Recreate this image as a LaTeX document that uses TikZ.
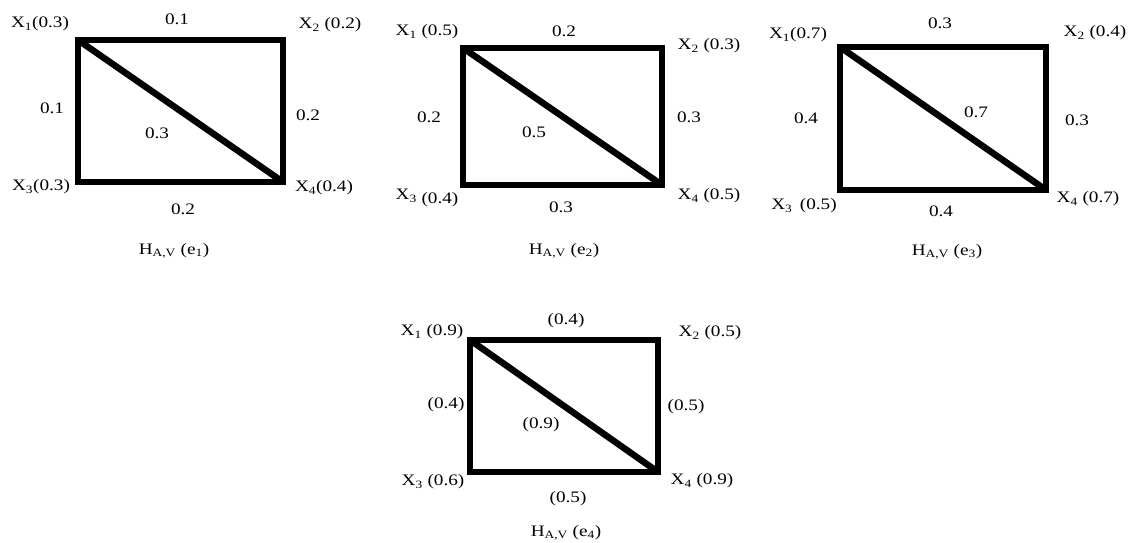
\documentclass[tikz,border=0pt]{standalone}
\usepackage{fontspec}
\setmainfont[FakeStretch=1.2]{Liberation Serif}
\begin{document}
\begin{tikzpicture}[x=1pt,y=-1pt,
  edge/.style={line width=6.5pt,line join=miter,line cap=butt},
  lbl/.style={font=\fontsize{16}{18}\selectfont,inner sep=0pt,anchor=center},
  captext/.style={font=\fontsize{16}{18}\selectfont,inner sep=0pt}]
\useasboundingbox[fill=white] (0,0) rectangle (1130,543);
% ---------- graph 1 ----------
\coordinate (a1) at (78,40);
\coordinate (b1) at (283,40);
\coordinate (c1) at (78,182);
\coordinate (d1) at (283,182);
\draw[edge] (a1) -- (b1) -- (d1) -- (c1) -- cycle;
\draw[edge] (a1) -- (d1);
\node[lbl] (x11) at (40,24) {X\textsubscript{1}(0.3)};
\node[lbl] (x21) at (330,25) {X\textsubscript{2} (0.2)};
\node[lbl] (x31) at (41,187) {X\textsubscript{3}(0.3)};
\node[lbl] (x41) at (324,188) {X\textsubscript{4}(0.4)};
\node[lbl] (t1) at (177,19) {0.1};
\node[lbl] (l1) at (52,108) {0.1};
\node[lbl] (r1) at (308,115) {0.2};
\node[lbl] (g1) at (157,133) {0.3};
\node[lbl] (bt1) at (183,209) {0.2};
\node[captext] (h1) at (174,251) {H\textsubscript{A,V} (e\textsubscript{1})};
% ---------- graph 2 ----------
\coordinate (a2) at (463,48);
\coordinate (b2) at (662,48);
\coordinate (c2) at (463,185);
\coordinate (d2) at (662,185);
\draw[edge] (a2) -- (b2) -- (d2) -- (c2) -- cycle;
\draw[edge] (a2) -- (d2);
\node[lbl] (x12) at (427,32) {X\textsubscript{1} (0.5)};
\node[lbl] (x22) at (709,46) {X\textsubscript{2} (0.3)};
\node[lbl] (x32) at (427,198) {X\textsubscript{3} \raisebox{-4pt}{(0.4)}};
\node[lbl] (x42) at (709,196) {X\textsubscript{4} (0.5)};
\node[lbl] (t2) at (564,31) {0.2};
\node[lbl] (l2) at (429,117) {0.2};
\node[lbl] (r2) at (689,117) {0.3};
\node[lbl] (g2) at (534,132) {0.5};
\node[lbl] (bt2) at (561,207) {0.3};
\node[captext] (h2) at (564,251) {H\textsubscript{A,V} (e\textsubscript{2})};
% ---------- graph 3 ----------
\coordinate (a3) at (840,47);
\coordinate (b3) at (1046,47);
\coordinate (c3) at (840,190);
\coordinate (d3) at (1046,190);
\draw[edge] (a3) -- (b3) -- (d3) -- (c3) -- cycle;
\draw[edge] (a3) -- (d3);
\node[lbl] (x13) at (798,35) {X\textsubscript{1}(0.7)};
\node[lbl] (x23) at (1095,33) {X\textsubscript{2} (0.4)};
\node[lbl] (x33) at (804,206) {X\textsubscript{3}\, (0.5)};
\node[lbl] (x43) at (1088,199) {X\textsubscript{4} (0.7)};
\node[lbl] (t3) at (940,23) {0.3};
\node[lbl] (l3) at (806,118) {0.4};
\node[lbl] (r3) at (1077,120) {0.3};
\node[lbl] (g3) at (976,112) {0.7};
\node[lbl] (bt3) at (941,211) {0.4};
\node[captext] (h3) at (947,252) {H\textsubscript{A,V} (e\textsubscript{3})};
% ---------- graph 4 ----------
\coordinate (a4) at (470,340);
\coordinate (b4) at (658,340);
\coordinate (c4) at (470,472);
\coordinate (d4) at (658,472);
\draw[edge] (a4) -- (b4) -- (d4) -- (c4) -- cycle;
\draw[edge] (a4) -- (d4);
\node[lbl] (x14) at (432,332) {X\textsubscript{1} (0.9)};
\node[lbl] (x24) at (710,333) {X\textsubscript{2} (0.5)};
\node[lbl] (x34) at (433,482) {X\textsubscript{3} (0.6)};
\node[lbl] (x44) at (702,481) {X\textsubscript{4} (0.9)};
\node[lbl] (t4) at (566,321) {(0.4)};
\node[lbl] (l4) at (446,405) {(0.4)};
\node[lbl] (r4) at (686,407) {(0.5)};
\node[lbl] (g4) at (541,425) {(0.9)};
\node[lbl] (bt4) at (568,499) {(0.5)};
\node[captext] (h4) at (566,533) {H\textsubscript{A,V} (e\textsubscript{4})};
\end{tikzpicture}
\end{document}
